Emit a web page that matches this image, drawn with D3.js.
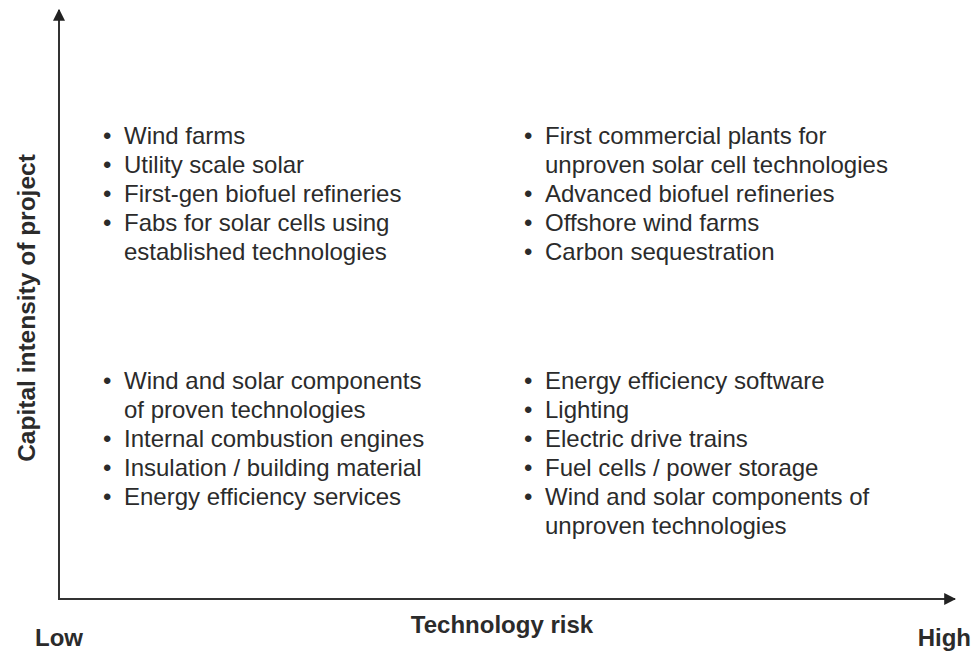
<!DOCTYPE html>
<html>
<head>
<meta charset="utf-8">
<script src="https://cdn.jsdelivr.net/npm/d3@7"></script>
<style>
  body { margin: 0; background: #fff; }
  text { font-family: "Liberation Sans", Arial, Helvetica, sans-serif; fill: #2b2b2b; }
</style>
</head>
<body>
<div id="graphic"></div>
<script>
// Quadrant contents (each item is a list of wrapped lines)
var riskLevels = ['low', 'high'];
var capitalLevels = ['high', 'low'];

var lowRiskHighCapital = [
    ['Wind farms'],
    ['Utility scale solar'],
    ['First-gen biofuel refineries'],
    ['Fabs for solar cells using', 'established technologies']
];
var highRiskHighCapital = [
    ['First commercial plants for', 'unproven solar cell technologies'],
    ['Advanced biofuel refineries'],
    ['Offshore wind farms'],
    ['Carbon sequestration']
];
var lowRiskLowCapital = [
    ['Wind and solar components', 'of proven technologies'],
    ['Internal combustion engines'],
    ['Insulation / building material'],
    ['Energy efficiency services']
];
var highRiskLowCapital = [
    ['Energy efficiency software'],
    ['Lighting'],
    ['Electric drive trains'],
    ['Fuel cells / power storage'],
    ['Wind and solar components of', 'unproven technologies']
];

var axisLabels = { x: 'Technology risk', y: 'Capital intensity of project', low: 'Low', high: 'High' };

var quadrants = [
    { risk: 'low', capital: 'high', items: lowRiskHighCapital },
    { risk: 'high', capital: 'high', items: highRiskHighCapital },
    { risk: 'low', capital: 'low', items: lowRiskLowCapital },
    { risk: 'high', capital: 'low', items: highRiskLowCapital }
];

var width = 975, height = 655;
var origin = { x: 59, y: 599 };
var lineHeight = 28.9;

var svg = d3.select('#graphic').append('svg')
    .attr('width', width)
    .attr('height', height);

// column start of each quadrant's text, and first baseline of each row
var xScale = d3.scalePoint().domain(riskLevels).range([124, 545]);
var yScale = d3.scalePoint().domain(capitalLevels).range([144, 389]);

var defs = svg.append('defs');
defs.append('marker')
    .attr('id', 'arrow')
    .attr('viewBox', '0 0 10 10')
    .attr('refX', 9)
    .attr('refY', 5)
    .attr('markerWidth', 6)
    .attr('markerHeight', 6)
    .attr('markerUnits', 'strokeWidth')
    .attr('orient', 'auto')
    .append('path')
    .attr('d', 'M0,0 L10,5 L0,10 z')
    .attr('fill', '#222');

// Axes
svg.append('line')
    .attr('x1', origin.x).attr('y1', origin.y)
    .attr('x2', origin.x).attr('y2', 10)
    .attr('stroke', '#333').attr('stroke-width', 2)
    .attr('marker-end', 'url(#arrow)');

svg.append('line')
    .attr('x1', origin.x - 1).attr('y1', origin.y)
    .attr('x2', 955).attr('y2', origin.y)
    .attr('stroke', '#333').attr('stroke-width', 2)
    .attr('marker-end', 'url(#arrow)');

// Quadrant lists
quadrants.forEach(function(q) {
    var g = svg.append('g')
        .attr('transform', 'translate(' + xScale(q.risk) + ',' + yScale(q.capital) + ')');
    var row = 0;
    q.items.forEach(function(item) {
        g.append('text')
            .attr('x', -21)
            .attr('y', row * lineHeight)
            .style('font-size', '24px')
            .text('\u2022');
        item.forEach(function(line) {
            g.append('text')
                .attr('x', 0)
                .attr('y', row * lineHeight)
                .style('font-size', '24px')
                .text(line);
            row++;
        });
    });
});

// Axis labels
svg.append('text')
    .attr('x', 502).attr('y', 633)
    .attr('text-anchor', 'middle')
    .style('font-size', '24px').style('font-weight', 'bold')
    .text(axisLabels.x);

svg.append('text')
    .attr('x', 35).attr('y', 646)
    .style('font-size', '24px').style('font-weight', 'bold')
    .text(axisLabels.low);

svg.append('text')
    .attr('x', 971).attr('y', 646)
    .attr('text-anchor', 'end')
    .style('font-size', '24px').style('font-weight', 'bold')
    .text(axisLabels.high);

svg.append('text')
    .attr('transform', 'translate(35,308) rotate(-90)')
    .attr('text-anchor', 'middle')
    .style('font-size', '24.5px').style('font-weight', 'bold')
    .text(axisLabels.y);
</script>
</body>
</html>
